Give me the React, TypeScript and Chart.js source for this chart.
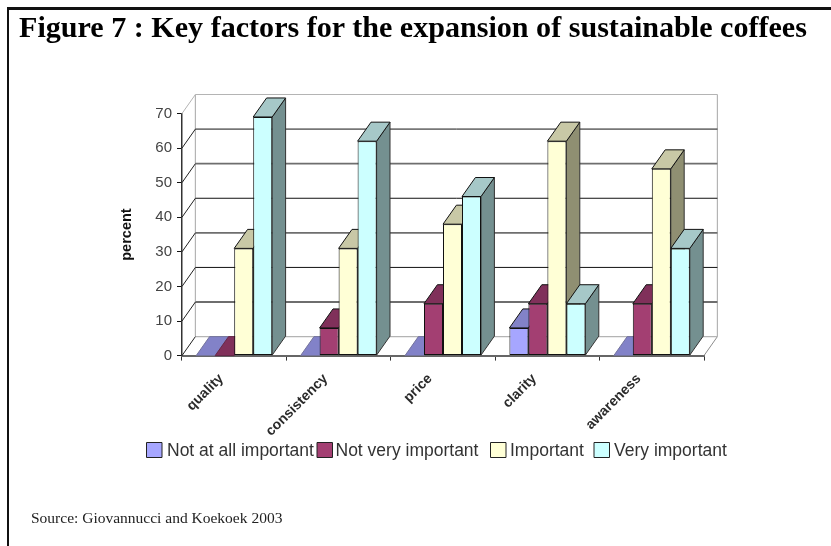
import React, { useEffect, useRef } from "react";
import { Chart, registerables } from "chart.js";

Chart.register(...registerables);

// Percent of respondents per factor
const categories = ["quality", "consistency", "price", "clarity", "awareness"];
const notAtAllImportant = [0, 0, 0, 8, 0];
const notVeryImportant = [0, 8, 15, 15, 15];
const important = [31, 31, 38, 62, 54];
const veryImportant = [69, 62, 46, 15, 31];
const yMax = 70;
const yStep = 10;

const seriesNames = ["Not at all important", "Not very important", "Important", "Very important"];
const frontColors = ["#a6a6ff", "#a33f72", "#ffffd6", "#ccffff"];
const topColors = ["#8282c8", "#80305a", "#c8c8a6", "#a6c8c8"];
const sideColors = ["#74749c", "#662648", "#8f8f72", "#749090"];

const legendBoxX = [146.5, 317, 490.5, 594];
const legendTextX = [167, 335.5, 510, 614];

// Oblique offset of the back plane relative to the front plane
const DEPTH_X = 13.4;
const DEPTH_Y = -19;

const sansFamily = '"Liberation Sans", Arial, sans-serif';
const serifFamily = '"Liberation Serif", "Times New Roman", serif';

function polygon(ctx: CanvasRenderingContext2D, pts: number[][], fill: string | null, stroke: string, lw = 1) {
  ctx.beginPath();
  pts.forEach(([x, y], i) => (i ? ctx.lineTo(x, y) : ctx.moveTo(x, y)));
  ctx.closePath();
  if (fill) {
    ctx.fillStyle = fill;
    ctx.fill();
  }
  ctx.strokeStyle = stroke;
  ctx.lineWidth = lw;
  ctx.stroke();
}

function segment(ctx: CanvasRenderingContext2D, x1: number, y1: number, x2: number, y2: number, color: string, lw: number) {
  ctx.beginPath();
  ctx.moveTo(x1, y1);
  ctx.lineTo(x2, y2);
  ctx.strokeStyle = color;
  ctx.lineWidth = lw;
  ctx.stroke();
}

// Back wall, floor and side wall of the oblique box
function drawBox(chart: any) {
  const { ctx, chartArea: a, scales } = chart;
  const y = scales.y;
  const right = a.right;
  const left = a.left;
  const wall = "#b4b4b4";
  ctx.save();
  segment(ctx, left + DEPTH_X, y.getPixelForValue(yMax) + DEPTH_Y, left + DEPTH_X, y.getPixelForValue(0) + DEPTH_Y, wall, 1.2);
  segment(ctx, right + DEPTH_X, y.getPixelForValue(yMax) + DEPTH_Y, right + DEPTH_X, y.getPixelForValue(0) + DEPTH_Y, wall, 1.2);
  segment(ctx, right, y.getPixelForValue(0), right + DEPTH_X, y.getPixelForValue(0) + DEPTH_Y, "#8c8c8c", 1);
  for (let v = 0; v <= yMax; v += yStep) {
    const py = y.getPixelForValue(v);
    const edge = v === 0 || v === yMax;
    const even = v % 20 === 0;
    const color = edge ? wall : even ? "#111111" : "#6e6e6e";
    const lw = edge ? 1.2 : even ? 1 : 1.8;
    segment(ctx, left + DEPTH_X, py + DEPTH_Y, right + DEPTH_X, py + DEPTH_Y, color, lw);
    segment(ctx, left, py, left + DEPTH_X, py + DEPTH_Y, v === yMax ? wall : "#222222", 1);
  }
  ctx.restore();
}

// Bars are painted left to right so each front face covers its neighbour's side
const bars3d = {
  id: "bars3d",
  beforeDatasetsDraw(chart: any) {
    const { ctx } = chart;
    drawBox(chart);
    categories.forEach((_, c) => {
      seriesNames.forEach((_n, s) => {
        const el = chart.getDatasetMeta(s).data[c];
        const { x, y, base, width } = el.getProps(["x", "y", "base", "width"], true);
        const l = x - width / 2;
        const r = x + width / 2;
        const flat = y === base;
        const edge = flat ? sideColors[s] : "#111111";
        if (!flat) {
          polygon(ctx, [[r, y], [r + DEPTH_X, y + DEPTH_Y], [r + DEPTH_X, base + DEPTH_Y], [r, base]], sideColors[s], "#333333");
        }
        polygon(ctx, [[l, y], [l + DEPTH_X, y + DEPTH_Y], [r + DEPTH_X, y + DEPTH_Y], [r, y]], topColors[s], edge);
        if (!flat) el.draw(ctx);
      });
    });
    return false;
  },
  afterDraw(chart: any) {
    const { ctx } = chart;
    ctx.save();
    ctx.font = `17.5px ${sansFamily}`;
    ctx.textBaseline = "middle";
    ctx.textAlign = "left";
    seriesNames.forEach((name, i) => {
      polygon(ctx, [[legendBoxX[i], 442.5], [legendBoxX[i] + 15.5, 442.5], [legendBoxX[i] + 15.5, 457.5], [legendBoxX[i], 457.5]], frontColors[i], "#222222", 1);
      ctx.fillStyle = "#333333";
      ctx.fillText(name, legendTextX[i], 451);
    });
    ctx.restore();
  },
};

export default function App() {
  const ref = useRef<HTMLCanvasElement | null>(null);

  useEffect(() => {
    const series = [notAtAllImportant, notVeryImportant, important, veryImportant];
    const chart = new Chart(ref.current as HTMLCanvasElement, {
      type: "bar",
      data: {
        labels: categories,
        datasets: series.map((data, i) => ({
          label: seriesNames[i],
          data,
          backgroundColor: frontColors[i],
          borderColor: "#111111",
          borderWidth: 1,
          borderSkipped: false,
          categoryPercentage: 0.728,
          barPercentage: 1,
        })),
      },
      options: {
        responsive: false,
        animation: false,
        layout: { padding: { left: 118, right: 127, top: 113.5, bottom: 90.4 } },
        plugins: { legend: { display: false }, title: { display: false }, tooltip: { enabled: false } },
        scales: {
          x: {
            afterFit: (s: any) => {
              s.height = 100;
            },
            grid: { drawOnChartArea: false, drawTicks: true, tickLength: 5, tickColor: "#333333", offset: true },
            border: { color: "#666666", width: 2 },
            ticks: {
              autoSkip: false,
              minRotation: 45,
              maxRotation: 45,
              labelOffset: -13,
              padding: 10,
              color: "#2a2a2a",
              font: { family: sansFamily, size: 14, weight: "bold" },
            },
          },
          y: {
            min: 0,
            max: yMax,
            afterFit: (s: any) => {
              s.width = 64;
            },
            grid: { drawOnChartArea: false, drawTicks: true, tickLength: 5, tickColor: "#111111" },
            border: { color: "#333333", width: 1.5 },
            ticks: { stepSize: yStep, padding: 5, color: "#444444", font: { family: sansFamily, size: 15 } },
            title: {
              display: true,
              text: "percent",
              color: "#111111",
              padding: 0,
              font: { family: sansFamily, size: 14.5, weight: "bold" },
            },
          },
        },
      } as any,
      plugins: [bars3d],
    });
    return () => chart.destroy();
  }, []);

  return (
    <div style={{ position: "fixed", left: 0, top: 0, width: 831, height: 546, background: "#fff", overflow: "hidden" }}>
      <canvas ref={ref} width={831} height={546} style={{ position: "absolute", left: 0, top: 0 }} />
      <div style={{ position: "absolute", left: 7, top: 7, right: 0, height: 3, background: "#111" }} />
      <div style={{ position: "absolute", left: 7, top: 7, bottom: 0, width: 2, background: "#111" }} />
      <div
        style={{
          position: "absolute",
          left: 19,
          top: 10,
          fontFamily: serifFamily,
          fontWeight: "bold",
          fontSize: 30.1,
          lineHeight: "34px",
          whiteSpace: "nowrap",
          color: "#000",
        }}
      >
        Figure 7 : Key factors for the expansion of sustainable coffees
      </div>
      <div
        style={{
          position: "absolute",
          left: 31,
          top: 510,
          fontFamily: serifFamily,
          fontSize: 15.5,
          lineHeight: "16px",
          whiteSpace: "nowrap",
          color: "#222",
        }}
      >
        Source: Giovannucci and Koekoek 2003
      </div>
    </div>
  );
}
